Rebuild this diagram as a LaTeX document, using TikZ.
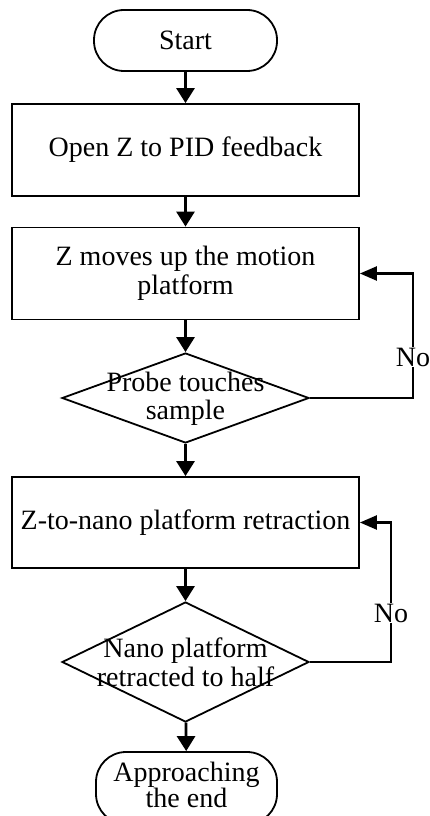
\documentclass[tikz,border=0pt]{standalone}
\usepackage{fontspec}
\setmainfont{Liberation Serif}
\usetikzlibrary{shapes.geometric,arrows.meta}
\begin{document}
\begin{tikzpicture}[x=1pt,y=-1pt,
  txt/.style={font=\fontsize{28}{28.5}\selectfont, align=center},
  box/.style={txt, draw, line width=1.8pt, minimum width=347pt, minimum height=92pt, inner sep=0pt},
  term/.style={txt, draw, line width=1.8pt, rounded corners=30pt, minimum width=183pt, minimum height=61pt, inner sep=0pt},
  dec/.style={draw, diamond, line width=1.8pt, minimum width=247pt, minimum height=90pt, inner sep=0pt},
  arr/.style={line width=2.8pt, -{Triangle[length=15pt,width=18pt]}},
  back/.style={line width=2.3pt, -{Triangle[length=17pt,width=14pt]}},
  lbl/.style={txt, fill=white, inner sep=1pt}
]
\useasboundingbox (0,0) rectangle (429,816);

\node[term] (start) at (185.5,40.5) {Start};
\node[box] (b1) at (185.5,150) {Open Z to PID feedback};
\node[box] (b2) at (185.5,273.5) {Z moves up the motion\\platform};
\node[dec] (d1) at (185.5,398) {};
\node[txt] (d1t) at (185.5,399) {Probe touches\\sample};
\node[box, minimum height=91pt] (b3) at (185.5,522.5) {Z-to-nano platform retraction};
\node[dec, minimum height=120pt] (d2) at (185.5,662) {};
\node[txt] (d2t) at (185.5,662.5) {Nano platform\\retracted to half};
\node[term, minimum width=181pt, minimum height=72pt] (end) at (186.5,788) {};
\node[txt, font=\fontsize{28}{26}\selectfont, inner sep=0pt] (endt) at (186.5,785) {Approaching\\the end};

\draw[arr] (start) -- (b1);
\draw[arr] (b1) -- (b2);
\draw[arr] (b2) -- (d1);
\draw[arr] (d1) -- (b3);
\draw[arr] (b3) -- (d2);
\draw[arr] (d2) -- (end);

\coordinate (c1) at (413,398);
\coordinate (c2) at (413,273.5);
\draw[back] (d1.east) -- (c1) -- (c2) -- (b2.east);
\node[lbl] (no1) at (413,357) {No};

\coordinate (c3) at (391,662);
\coordinate (c4) at (391,522.5);
\draw[back] (d2.east) -- (c3) -- (c4) -- (b3.east);
\node[lbl] (no2) at (391,613) {No};
\end{tikzpicture}
\end{document}
